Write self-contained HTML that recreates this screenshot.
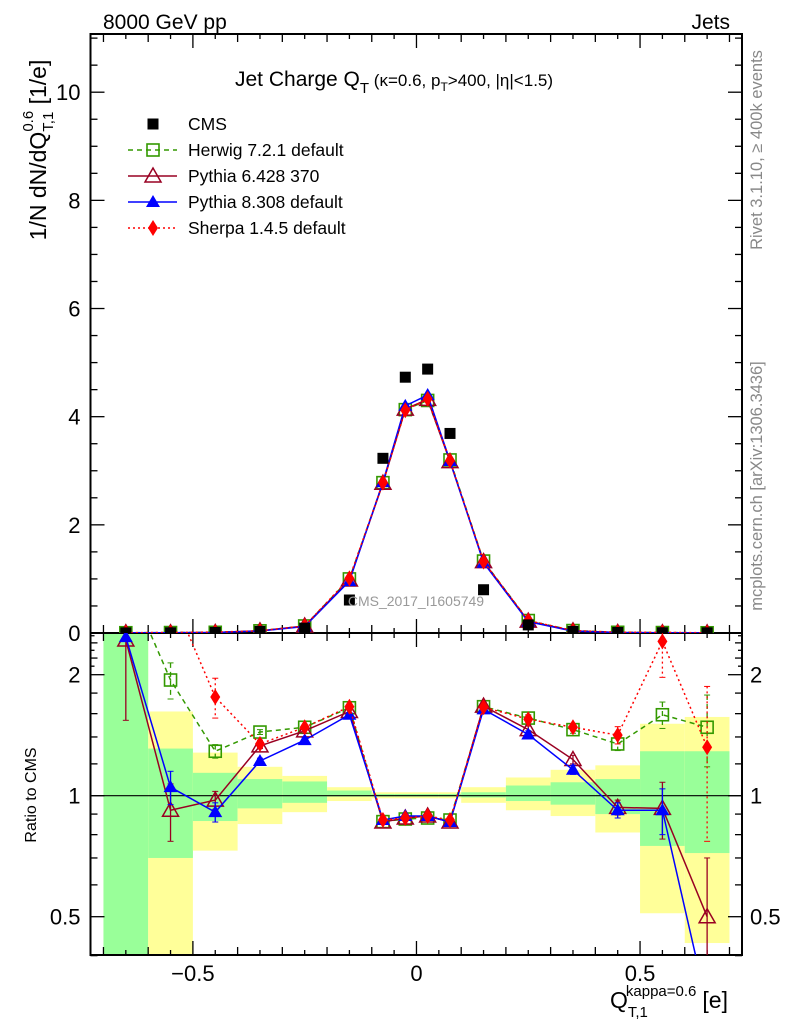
<!DOCTYPE html>
<html><head><meta charset="utf-8"><style>
html,body{margin:0;padding:0;background:#fff;}
svg{display:block;font-family:"Liberation Sans",sans-serif;}
</style></head><body>
<svg id="chart" width="786" height="1024" viewBox="0 0 786 1024"></svg>
<script>
const categories=[-0.65,-0.55,-0.45,-0.35,-0.25,-0.15,-0.075,-0.025,0.025,0.075,0.15,0.25,0.35,0.45,0.55,0.65];
const binLo=[-0.7,-0.6,-0.5,-0.4,-0.3,-0.2,-0.1,-0.05,0,0.05,0.1,0.2,0.3,0.4,0.5,0.6];
const binHi=[-0.6,-0.5,-0.4,-0.3,-0.2,-0.1,-0.05,0,0.05,0.1,0.2,0.3,0.4,0.5,0.6,0.7];
const cmsMain=[0.002,0.004,0.01,0.03,0.09,0.61,3.23,4.73,4.88,3.69,0.80,0.15,0.03,0.01,0.005,0.003];
const herwigMain=[0.005,0.008,0.013,0.04,0.13,1.00,2.78,4.13,4.30,3.20,1.33,0.23,0.045,0.013,0.008,0.004];
const py6Main=[0.005,0.004,0.01,0.04,0.13,0.98,2.77,4.14,4.32,3.17,1.32,0.22,0.04,0.01,0.005,0.002];
const py8Main=[0.005,0.004,0.009,0.037,0.12,0.96,2.79,4.20,4.40,3.18,1.30,0.21,0.035,0.009,0.005,0.001];
const sherpaMain=[0.006,0.01,0.017,0.04,0.13,1.01,2.78,4.12,4.33,3.19,1.32,0.23,0.045,0.014,0.012,0.004];
const herwigRatio=[3.5,1.94,1.29,1.44,1.48,1.655,0.862,0.875,0.88,0.87,1.665,1.56,1.46,1.345,1.59,1.48];
const py6Ratio=[2.44,0.92,0.975,1.33,1.45,1.62,0.86,0.88,0.89,0.86,1.67,1.46,1.23,0.935,0.93,0.50];
const py8Ratio=[2.48,1.05,0.91,1.22,1.375,1.59,0.87,0.89,0.89,0.86,1.64,1.42,1.16,0.92,0.92,0.30];
const sherpaRatio=[4.0,3.2,1.76,1.345,1.48,1.665,0.87,0.88,0.89,0.87,1.66,1.55,1.48,1.415,2.42,1.32];
const yellowLo=[0.3,0.3,0.73,0.85,0.91,0.97,0.985,0.985,0.985,0.985,0.96,0.92,0.89,0.81,0.51,0.43];
const yellowHi=[3,1.62,1.28,1.18,1.12,1.05,1.02,1.02,1.02,1.02,1.05,1.11,1.16,1.19,1.51,1.57];
const greenLo=[0.3,0.70,0.865,0.93,0.96,0.995,0.995,0.995,0.995,0.995,0.99,0.97,0.95,0.90,0.75,0.72];
const greenHi=[3,1.31,1.14,1.10,1.085,1.03,1.01,1.01,1.01,1.01,1.02,1.06,1.08,1.10,1.29,1.29];
const py6Err=[0.9,0.15,0.05,0.02,0.02,0.02,0.01,0.01,0.01,0.01,0.02,0.03,0.03,0.04,0.15,0.2];
const py8Err=[0.0,0.1,0.05,0.02,0.02,0.02,0.01,0.01,0.01,0.01,0.02,0.03,0.03,0.04,0.12,0.0];
const herwigErr=[0.0,0.2,0.05,0.02,0.02,0.02,0.01,0.01,0.01,0.01,0.02,0.03,0.03,0.05,0.12,0.3];
const sherpaErr=[0.0,0.0,0.2,0.03,0.02,0.02,0.01,0.01,0.01,0.01,0.02,0.03,0.03,0.07,0.45,0.55];
const mainTicks=[0,2,4,6,8,10];
const ratioTicks=[0.5,1,2];
const xTicks=[-0.5,0,0.5];

const NS="http://www.w3.org/2000/svg";
const svg=document.getElementById('chart');
const L=90.5,R=742,T=34,M=633,B=955;
const XMIN=-0.729,XMAX=0.728;
const X=v=>L+(v-XMIN)/(XMAX-XMIN)*(R-L);
const YM=v=>633-v*54.08;
const YR=v=>795.7-121*Math.log2(v);
function el(tag,attrs,parent){const e=document.createElementNS(NS,tag);for(const k in attrs)e.setAttribute(k,attrs[k]);(parent||svg).appendChild(e);return e;}
function txt(s,attrs,parent){const e=el('text',attrs,parent);e.textContent=s;return e;}

const defs=el('defs',{});
const cm=el('clipPath',{id:'cm'},defs);el('rect',{x:L,y:T,width:R-L,height:M-T},cm);
const cr=el('clipPath',{id:'cr'},defs);el('rect',{x:L,y:M,width:R-L,height:B-M},cr);

const bands=el('g',{'clip-path':'url(#cr)'});


categories.forEach((c,i)=>{
  const y=el('rect',{x:X(binLo[i]),y:YR(yellowHi[i]),width:X(binHi[i])-X(binLo[i]),height:YR(yellowLo[i])-YR(yellowHi[i]),fill:'#ffff99'},bands);
  
  
  const g=el('rect',{x:X(binLo[i]),y:YR(greenHi[i]),width:X(binHi[i])-X(binLo[i]),height:YR(greenLo[i])-YR(greenHi[i]),fill:'#99ff99'},bands);
  
  
});
el('line',{x1:L,x2:R,y1:YR(1),y2:YR(1),stroke:'#000','stroke-width':1.2});

function frame(y0,y1,name){const r=el('rect',{x:L,y:y0,width:R-L,height:y1-y0,fill:'none',stroke:'#000','stroke-width':2});}
frame(T,M,'main-plot-frame');frame(M,B,'ratio-plot-frame');
const tk=el('g',{stroke:'#000','stroke-width':1.3});
for(let v=-0.7;v<=0.71;v+=0.05){const x=X(v);const maj=Math.abs(v*10-Math.round(v*10))<1e-6;const big=Math.abs(v*2-Math.round(v*2))<1e-6;
  const len=big?14:(maj?8:5);
  [[T,1],[M,-1],[M,1],[B,-1]].forEach(([y,d])=>el('line',{x1:x,x2:x,y1:y,y2:y+d*len},tk));}
for(let v=0;v<=11;v+=0.5){const y=YM(v);const len=(v%2===0)?14:7;
  el('line',{x1:L,x2:L+len,y1:y,y2:y},tk);el('line',{x1:R,x2:R-len,y1:y,y2:y},tk);}
[0.4,0.5,0.6,0.7,0.8,0.9,1,1.2,1.4,1.6,1.8,2,2.2,2.4].forEach(v=>{const y=YR(v);const big=(v===0.5||v===1||v===2);const len=big?14:7;
  el('line',{x1:L,x2:L+len,y1:y,y2:y},tk);el('line',{x1:R,x2:R-len,y1:y,y2:y},tk);});
[2.1,2.3,2.5].forEach(v=>{const y=YR(v);el('line',{x1:R,x2:R-4,y1:y,y2:y},tk);el('line',{x1:L,x2:L+4,y1:y,y2:y},tk);});

mainTicks.forEach(v=>{const t=txt(String(v),{x:L-10,y:YM(v)+8,'font-size':22,'text-anchor':'end'});});
ratioTicks.forEach(v=>{
  const a=txt(String(v),{x:L-10,y:YR(v)+8,'font-size':22,'text-anchor':'end'});
  const b=txt(String(v),{x:R+8,y:YR(v)+8,'font-size':22});});
xTicks.forEach(v=>{const t=txt(v<0?'\u2212'+Math.abs(v):String(v),{x:X(v),y:981,'font-size':22,'text-anchor':'middle'});});

const series=[
 {name:'herwig',color:'#339900',dash:'5,4',main:herwigMain,ratio:herwigRatio,err:herwigErr,mk:'sq'},
 {name:'pythia6',color:'#990022',dash:'',main:py6Main,ratio:py6Ratio,err:py6Err,mk:'otri'},
 {name:'pythia8',color:'#0000ff',dash:'',main:py8Main,ratio:py8Ratio,err:py8Err,mk:'tri'},
 {name:'sherpa',color:'#ff0000',dash:'2,3',main:sherpaMain,ratio:sherpaRatio,err:sherpaErr,mk:'dia'}];
function marker(type,x,y,c,g){
  if(type==='sq')return el('rect',{x:x-6,y:y-6,width:12,height:12,fill:'none',stroke:c,'stroke-width':1.6},g);
  if(type==='otri')return el('path',{d:`M${x},${y-8}L${x+8},${y+6}L${x-8},${y+6}Z`,fill:'none',stroke:c,'stroke-width':1.5},g);
  if(type==='tri')return el('path',{d:`M${x},${y-7}L${x+7},${y+5}L${x-7},${y+5}Z`,fill:c},g);
  if(type==='dia')return el('path',{d:`M${x},${y-8}L${x+5},${y}L${x},${y+8}L${x-5},${y}Z`,fill:c},g);
  if(type==='cms')return el('rect',{x:x-5.5,y:y-5.5,width:11,height:11,fill:'#000'},g);
}
series.forEach(s=>{
  const gm=el('g',{'clip-path':'url(#cm)'});
  
  
  el('polyline',{points:categories.map((c,i)=>X(c)+','+YM(s.main[i])).join(' '),fill:'none',stroke:s.color,'stroke-width':1.5,'stroke-dasharray':s.dash},gm);
  categories.forEach((c,i)=>{const m=marker(s.mk,X(c),YM(s.main[i]),s.color,gm);});
  const gr=el('g',{'clip-path':'url(#cr)'});
  
  
  el('polyline',{points:categories.map((c,i)=>X(c)+','+YR(s.ratio[i])).join(' '),fill:'none',stroke:s.color,'stroke-width':1.5,'stroke-dasharray':s.dash},gr);
  categories.forEach((c,i)=>{const x=X(c);
    if(s.err[i]>0){const lo=Math.max(s.ratio[i]-s.err[i],0.05);el('line',{x1:x,x2:x,y1:YR(s.ratio[i]+s.err[i]),y2:YR(lo),stroke:s.color,'stroke-width':1.3,'stroke-dasharray':s.dash},gr);
      el('line',{x1:x-3,x2:x+3,y1:YR(s.ratio[i]+s.err[i]),y2:YR(s.ratio[i]+s.err[i]),stroke:s.color},gr);el('line',{x1:x-3,x2:x+3,y1:YR(lo),y2:YR(lo),stroke:s.color},gr);}
    const m=marker(s.mk,x,YR(s.ratio[i]),s.color,gr);});
});
const gc=el('g',{'clip-path':'url(#cm)'});


categories.forEach((c,i)=>{const m=marker('cms',X(c),YM(cmsMain[i]),'#000',gc);});

const leg=el('g',{});


const legItems=[['CMS','#000','','cms'],['Herwig 7.2.1 default','#339900','5,4','sq'],['Pythia 6.428 370','#990022','','otri'],['Pythia 8.308 default','#0000ff','','tri'],['Sherpa 1.4.5 default','#ff0000','2,3','dia']];
legItems.forEach((it,k)=>{const y=124+26*k;const g=el('g',{},leg);
  
  
  if(k>0)el('line',{x1:128,x2:177,y1:y,y2:y,stroke:it[1],'stroke-width':1.5,'stroke-dasharray':it[2]},g);
  marker(it[3],153,y,it[1],g);
  txt(it[0],{x:188,y:y+6,'font-size':17.5},g);});

const labels=[
 ['8000 GeV pp',{x:103,y:29,'font-size':21},'energy-label'],
 ['Jets',{x:730,y:29,'font-size':21,'text-anchor':'end'},'process-label'],
];
labels.forEach(l=>{const t=txt(l[0],l[1]);});
const title=el('text',{x:235,y:86,'font-size':21});


title.innerHTML='Jet Charge Q<tspan font-size="15" dy="7">T</tspan><tspan dy="-7" font-size="17"> (κ=0.6, p</tspan><tspan font-size="12" dy="5">T</tspan><tspan font-size="17" dy="-5">&gt;400, |η|&lt;1.5)</tspan>';
const yl=el('text',{transform:'translate(46,150) rotate(-90)','font-size':23,'text-anchor':'middle'});


yl.innerHTML='1/N dN/dQ<tspan font-size="15" dy="7">T,1</tspan><tspan font-size="15" dx="-20" dy="-20">0.6</tspan><tspan dy="13"> [1/e]</tspan>';
const rl=txt('Ratio to CMS',{transform:'translate(36,795) rotate(-90)','font-size':16,'text-anchor':'middle'});

const xl=el('text',{x:610,y:1008,'font-size':23});


xl.innerHTML='Q<tspan font-size="15" dy="9">T,1</tspan><tspan font-size="15" dx="-22" dy="-21">kappa=0.6</tspan><tspan dx="6" dy="12">[e]</tspan>';
const r1=txt('Rivet 3.1.10, ≥ 400k events',{transform:'translate(762,150) rotate(-90)','font-size':16.5,fill:'#888','text-anchor':'middle'});

const r2=txt('mcplots.cern.ch [arXiv:1306.3436]',{transform:'translate(762,486) rotate(-90)','font-size':16.5,fill:'#888','text-anchor':'middle'});

const wm=txt('CMS_2017_I1605749',{x:416,y:606,'font-size':14,fill:'#999','text-anchor':'middle'});

</script>
</body></html>
